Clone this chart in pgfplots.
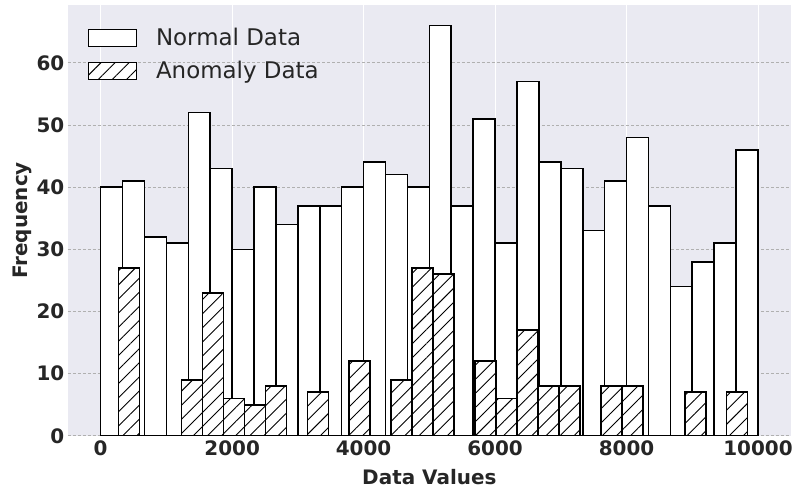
\documentclass[border=0pt]{standalone}
\usepackage{fontspec}
\setmainfont{DejaVu Sans}
\usepackage{pgfplots}
\pgfplotsset{compat=1.18}
\usetikzlibrary{patterns.meta}
\definecolor{bgc}{HTML}{EAEAF2}
\definecolor{txt}{HTML}{262626}
\definecolor{gridc}{HTML}{B0B0B0}
\begin{document}
\begin{tikzpicture}
\begin{axis}[
  scale only axis,
  width=725pt, height=432pt,
  xmin=-500, xmax=10500,
  ymin=0, ymax=69.3,
  axis background/.style={fill=bgc},
  axis line style={draw=none},
  major tick length=0pt,
  scaled ticks=false,
  xtick={0,2000,4000,6000,8000,10000},
  ytick={0,10,20,30,40,50,60},
  /pgf/number format/assume math mode=true,
  /pgf/number format/1000 sep={},
  ticklabel style={font=\fontsize{20}{24}\selectfont\bfseries, text=txt},
  xticklabel style={yshift=-1pt},
  yticklabel style={xshift=0pt},
  xlabel={\textbf{Data Values}},
  ylabel={\textbf{Frequency}},
  label style={font=\fontsize{20}{24}\selectfont, text=txt},
  xlabel style={yshift=-7pt},
  ylabel style={yshift=-2pt},
  xmajorgrids, ymajorgrids,
  x grid style={white, line width=0.8pt},
  y grid style={gridc, line width=0.7pt, dash pattern=on 3pt off 2pt},
  legend style={at={(0.023,0.955)}, anchor=north west, draw=none, fill=none,
    font=\fontsize{23}{27}\selectfont, text=txt, row sep=10pt,
    /tikz/every odd column/.append style={column sep=17pt}},
  legend cell align=left,
  legend image code/.code={\draw[#1] (0pt,-8.5pt) rectangle (48pt,8.5pt);},
]
\addplot[ybar interval, fill=white, draw=black, line width=1.6pt] coordinates {
(0,40) (333.33,41) (666.67,32) (1000,31) (1333.33,52) (1666.67,43)
(2000,30) (2333.33,40) (2666.67,34) (3000,37) (3333.33,37) (3666.67,40)
(4000,44) (4333.33,42) (4666.67,40) (5000,66) (5333.33,37) (5666.67,51)
(6000,31) (6333.33,57) (6666.67,44) (7000,43) (7333.33,33) (7666.67,41)
(8000,48) (8333.33,37) (8666.67,24) (9000,28) (9333.33,31) (9666.67,46)
(10000,46)};
\addlegendentry{Normal Data}
\addplot[ybar interval, draw=black, line width=1.6pt, preaction={fill=white},
  pattern={Lines[angle=45, distance=10pt, line width=0.9pt]}] coordinates {
(273,27) (592,0) (911,0) (1230,9) (1549,23) (1868,6) (2187,5) (2506,8)
(2825,0) (3144,7) (3463,0) (3782,12) (4101,0) (4420,9) (4739,27) (5058,26)
(5377,0) (5696,12) (6015,6) (6334,17) (6653,8) (6972,8) (7291,0) (7610,8)
(7929,8) (8248,0) (8567,0) (8886,7) (9205,0) (9524,7) (9843,7)};
\addlegendentry{Anomaly Data}
\end{axis}
\path (current axis.south west) ++(-68pt,-52pt) coordinate (bbA);
\path (current axis.north east) ++(3pt,5pt) coordinate (bbB);
\path (bbA) rectangle (bbB);
\end{tikzpicture}
\end{document}
